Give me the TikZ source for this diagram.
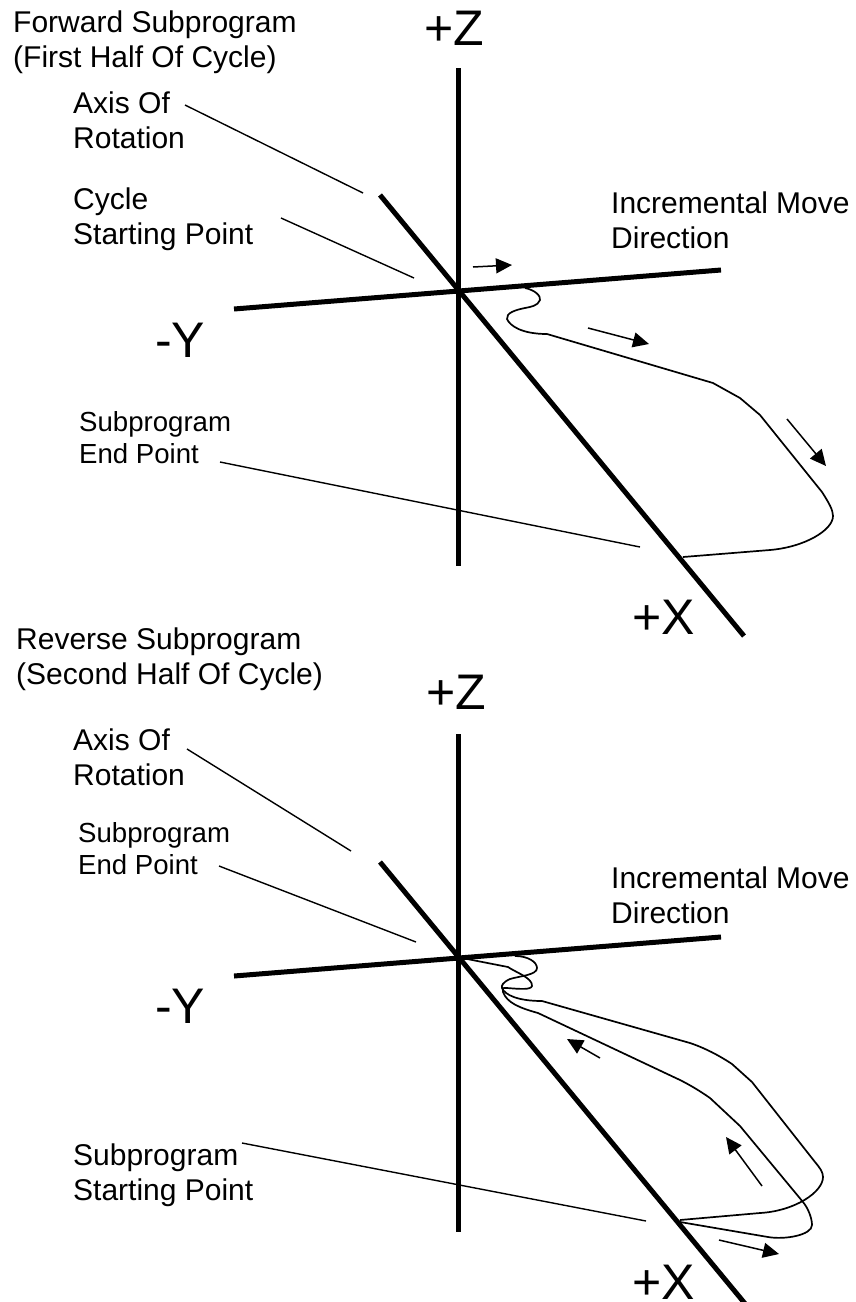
\documentclass[tikz,border=0pt]{standalone}
\usepackage{fontspec}
\setmainfont{Liberation Sans}
\usetikzlibrary{arrows.meta}
\tikzset{
    axisline/.style={line width=5pt},
    leaderline/.style={line width=1.4pt},
    pathline/.style={line width=1.7pt},
    movearrow/.style={line width=1.5pt,-{Triangle[length=16pt,width=15pt]}},
    labeltext/.style={anchor=base west,inner sep=0pt,align=left,font=\fontsize{30}{34.5}\selectfont},
    smalltext/.style={anchor=base west,inner sep=0pt,align=left,font=\fontsize{27.6}{31.7}\selectfont},
    axistext/.style={anchor=base west,inner sep=0pt,font=\fontsize{50}{50}\selectfont}
}
\begin{document}
\begin{tikzpicture}[x=1pt,y=-1pt]
            \useasboundingbox (0,0) rectangle (856,1302);

            \coordinate (ztopa) at (458,68);
            \coordinate (zbota) at (458,566);
            \coordinate (ylefta) at (234,309);
            \coordinate (yrighta) at (721,270);
            \coordinate (xtopa) at (380,195);
            \coordinate (xbota) at (744,636);

            \coordinate (ztopb) at (458,734);
            \coordinate (zbotb) at (458,1232);
            \coordinate (yleftb) at (234,976);
            \coordinate (yrightb) at (721,937);
            \coordinate (xtopb) at (380,862);
            \coordinate (xbotb) at (747,1306);

            \foreach \p/\q in {ztopa/zbota,ylefta/yrighta,xtopa/xbota,ztopb/zbotb,yleftb/yrightb,xtopb/xbotb}{
                \draw[axisline] (\p)--(\q);
            }

            \node[labeltext] (titlea) at (13,67) {Forward Subprogram\\(First Half Of Cycle)};
            \node[labeltext] (axisa) at (73,148) {Axis Of\\Rotation};
            \node[labeltext] (cyclestart) at (73,244) {Cycle\\Starting Point};
            \node[labeltext] (movea) at (611,248) {Incremental Move\\Direction};
            \node[smalltext] (enda) at (79,463) {Subprogram\\End Point};
            \node[axistext] (plusza) at (424,45) {+Z};
            \node[axistext] (minusya) at (155,357) {-Y};
            \node[axistext] (plusxa) at (632,634) {+X};

            \node[labeltext] (titleb) at (16,684) {Reverse Subprogram\\(Second Half Of Cycle)};
            \node[labeltext] (axisb) at (73,785) {Axis Of\\Rotation};
            \node[smalltext] (endb) at (78,874) {Subprogram\\End Point};
            \node[labeltext] (moveb) at (611,923) {Incremental Move\\Direction};
            \node[labeltext] (startb) at (73,1200) {Subprogram\\Starting Point};
            \node[axistext] (pluszb) at (426,709) {+Z};
            \node[axistext] (minusyb) at (155,1023) {-Y};
            \node[axistext] (plusxb) at (632,1299) {+X};

            \coordinate (axisafrom) at (185,105);
            \coordinate (axisato) at (363,193);
            \coordinate (cyclefrom) at (281,218);
            \coordinate (cycleto) at (414,278);
            \coordinate (endafrom) at (220,462);
            \coordinate (endato) at (640,547);
            \coordinate (axisbfrom) at (187,749);
            \coordinate (axisbto) at (351,851);
            \coordinate (endbfrom) at (219,866);
            \coordinate (endbto) at (416,942);
            \coordinate (startfrom) at (242,1143);
            \coordinate (startto) at (646,1221);

            \foreach \p/\q in {axisafrom/axisato,cyclefrom/cycleto,endafrom/endato,axisbfrom/axisbto,endbfrom/endbto,startfrom/startto}{
                \draw[leaderline] (\p)--(\q);
            }

            \draw[pathline] (525,288) .. controls (535,290) and (541,296) .. (540,300) .. controls (538,306) and (530,307) .. (525,308) .. controls (515,310) and (506,313) .. (507,319) .. controls (510,326) and (522,334) .. (547,334) -- (713,383) -- (740,398) -- (760,415) -- (822,492) .. controls (829,503) and (833,510) .. (833,516) .. controls (833,530) and (805,547) .. (770,550) -- (683,557);

            \draw[pathline] (515,956) .. controls (528,956) and (537,962) .. (537,968) .. controls (537,975) and (520,976) .. (510,979) .. controls (503,982) and (501,986) .. (502,988) .. controls (505,995) and (518,1001) .. (542,1001) -- (690,1043) .. controls (705,1048) and (720,1056) .. (732,1064) -- (752,1082) -- (815,1162) .. controls (820,1168) and (823,1172) .. (823,1177) .. controls (823,1192) and (795,1211) .. (760,1213) -- (680,1220);
            \draw[pathline] (680,1222) -- (768,1237) .. controls (785,1240) and (812,1235) .. (812,1225) .. controls (812,1218) and (808,1208) .. (803,1202) -- (740,1126) -- (710,1098) .. controls (700,1091) and (690,1085) .. (680,1080) -- (538,1013) .. controls (520,1008) and (507,1003) .. (503,992) .. controls (502,987) and (504,988) .. (507,988) .. controls (520,989) and (531,990) .. (532,986) .. controls (533,978) and (515,972) .. (508,967) -- (462,958);

            \coordinate (movea1) at (473,267);
            \coordinate (movea2) at (512,265);
            \coordinate (movea3) at (588,328);
            \coordinate (movea4) at (649,344);
            \coordinate (movea5) at (787,419);
            \coordinate (movea6) at (826,466);
            \coordinate (moveb1) at (600,1058);
            \coordinate (moveb2) at (567,1039);
            \coordinate (moveb3) at (762,1186);
            \coordinate (moveb4) at (726,1137);
            \coordinate (moveb5) at (719,1240);
            \coordinate (moveb6) at (779,1254);

            \foreach \p/\q in {movea1/movea2,movea3/movea4,movea5/movea6,moveb1/moveb2,moveb3/moveb4,moveb5/moveb6}{
                \draw[movearrow] (\p)--(\q);
            }
        \end{tikzpicture}
\end{document}
